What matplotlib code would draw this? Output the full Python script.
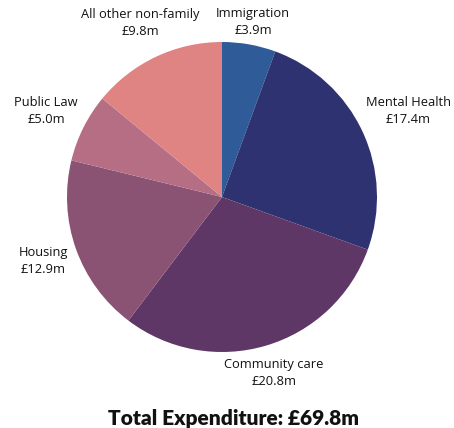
import matplotlib
matplotlib.use('Agg')

import matplotlib.pyplot as plt

categories = ['Immigration', 'Mental Health', 'Community care', 'Housing',
              'Public Law', 'All other non-family']
spend = [3.9, 17.4, 20.8, 12.9, 5.0, 9.8]
colours = ['#2f5b98', '#2e3270', '#5f3766', '#8a5273', '#b66e85', '#e08383']

# label centres in pixels (x, y from top)
label_pos = [(253, 22), (408, 111), (274, 373), (43, 261), (46, 111), (140, 23)]

W, H = 454, 428
fig = plt.figure(figsize=(W / 100, H / 100), dpi=100)
plt.rcParams['font.family'] = ['Open Sans', 'DejaVu Sans']

ax = fig.add_axes([67 / W, (H - 352) / H, 310 / W, 310 / H])
ax.pie(spend, colors=colours, startangle=90, counterclock=False,
       radius=1, wedgeprops={'linewidth': 0})
ax.set_xlim(-1, 1)
ax.set_ylim(-1, 1)
ax.set_aspect('equal')
ax.axis('off')

for name, val, (px, py) in zip(categories, spend, label_pos):
    fig.text(px / W, 1 - py / H, f'{name}\n£{val:.1f}m', ha='center', va='center',
             fontsize=9.3, linespacing=1.4, color='#111111')

total = sum(spend)
fig.text(233 / W, 1 - 418 / H, f'Total Expenditure: £{total:.1f}m', ha='center',
         va='center', fontsize=15, fontweight='heavy', color='#111111',
         family=['Lato', 'DejaVu Sans'])

fig.savefig('out.png', dpi=100)
